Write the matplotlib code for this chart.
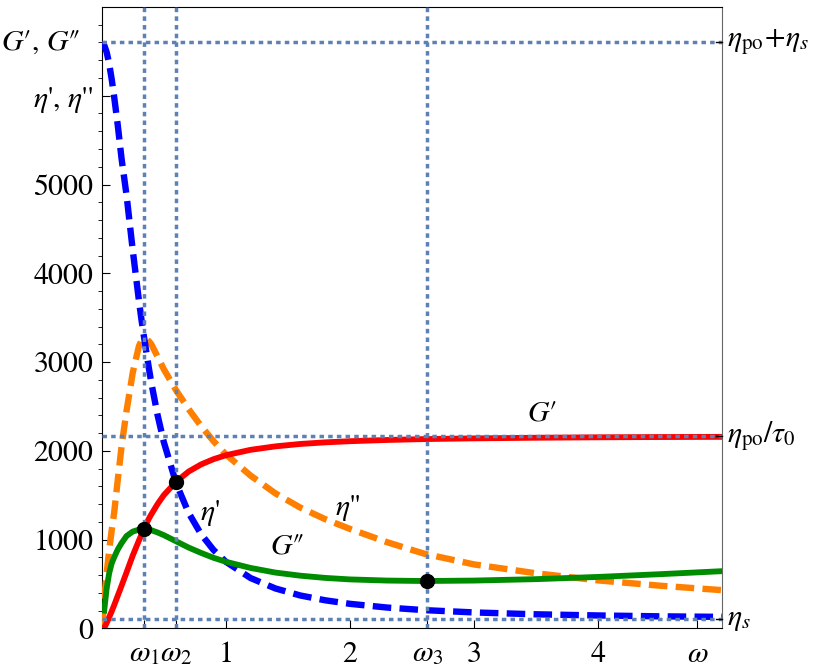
import numpy as np
import matplotlib as mpl
mpl.use('Agg')
import matplotlib.pyplot as plt

plt.rcParams['font.family'] = ['STIXGeneral', 'DejaVu Serif']
plt.rcParams['mathtext.fontset'] = 'stix'

# values
omega = [0.005, 0.02, 0.04, 0.06, 0.08, 0.1, 0.13, 0.16, 0.2, 0.25, 0.3, 0.32, 0.34,
         0.36, 0.38, 0.4, 0.45, 0.5, 0.6, 0.7, 0.8, 0.9, 1.0, 1.2, 1.4, 1.6, 1.8, 2.0,
         2.3, 2.6, 3.0, 3.5, 4.0, 4.5, 5.0]
G1 = [np.nan, 5, 60, 125, 190, 260, 370, 480, 630, 820, 990, 1055, 1118,
      1180, 1235, 1285, 1400, 1500, 1652, 1766, 1846, 1905, 1950, 2011, 2050, 2077, 2095, 2108,
      2122, 2132, 2140, 2147, 2152, 2155, 2157]
G2 = [np.nan, 200, 450, 620, 730, 800, 890, 960, 1040, 1090, 1112, 1117, 1118,
      1116, 1112, 1105, 1080, 1050, 980, 910, 850, 795, 750, 680, 628, 593, 568, 551,
      538, 533, 538, 554, 579, 610, 644]
eta1 = [6600, 6570, 6490, 6360, 6190, 5990, 5660, 5290, 4880, 4260, 3690, 3480, 3290,
        3110, 2930, 2764, 2403, 2100, 1633, 1301, 1062, 884, 750, 566, 449, 370, 316, 276,
        234, 205, 179, 158, 145, 135, 129]
eta2 = [30, 330, 620, 880, 1100, 1300, 1680, 2050, 2450, 2880, 3180, 3240, 3260,
        3255, 3235, 3200, 3060, 2920, 2680, 2470, 2280, 2110, 1960, 1720, 1520, 1360, 1230, 1120,
        970, 840, 720, 620, 540, 480, 430]

omega_marks = [0.344, 0.596, 2.625]
mark_values = [1118, 1650, 533]
levels = [6600, 2165, 100]
level_labels = [r'$\eta_{\rm po}\!+\!\eta_s$', r'$\eta_{\rm po}/\tau_0$', r'$\eta_s$']

xticks = [0.344, 0.596, 1, 2, 2.625, 3, 4, 4.8]
xticklabels = [r'$\omega_1$', r'$\omega_2$', '1', '2', r'$\omega_3$', '3', '4', r'$\omega$']

fs = 21.5
fig = plt.figure(figsize=(8.17, 6.71), dpi=100)
ax = fig.add_axes([0.1245, 0.0636, 0.7595, 0.926])

ax.plot(omega, eta2, color='#ff8000', lw=4.6, dashes=(2.9, 1.3), zorder=3)
ax.plot(omega, eta1, color='#0000ff', lw=4.6, dashes=(2.9, 1.3), zorder=3)
ax.plot(omega, G2, color='#008c00', lw=4.2, zorder=4)
ax.plot(omega, G1, color='#ff0000', lw=4.2, zorder=4)

ref = '#5e81b5'
for w in omega_marks:
    ax.axvline(w, color=ref, lw=2.5, dashes=(1.3, 1.2), zorder=5)
for lv in levels:
    ax.axhline(lv, color=ref, lw=2.5, dashes=(1.3, 1.2), zorder=5)

ax.plot(omega_marks, mark_values, 'o', color='black', ms=10, zorder=6)

ax.set_xlim(0, 5.0)
ax.set_ylim(0, 7000)

ax.set_xticks(xticks)
ax.set_xticklabels(xticklabels)
ax.set_yticks([0, 1000, 2000, 3000, 4000, 5000, 6000])
ax.set_yticklabels(['0', '1000', '2000', '3000', '4000', '5000', "$\\eta$', $\\eta$''"])
ax.set_yticks(np.arange(0, 7000, 200), minor=True)
ax.tick_params(axis='both', direction='in', labelsize=fs)
ax.tick_params(axis='y', which='major', length=6, pad=6)
ax.tick_params(axis='y', which='minor', length=3)
ax.tick_params(axis='x', which='major', length=6, pad=9)
ax.spines['right'].set_color('#666666')

ax.text(-0.035, 6600, "$G$\u2032, $G$\u2033", transform=ax.get_yaxis_transform(),
        ha='right', va='center', fontsize=fs)

trans = ax.get_yaxis_transform()
for lv, lab in zip(levels, level_labels):
    ax.plot([0.99, 1.0], [lv, lv], color='black', lw=1, transform=trans, clip_on=False, zorder=7)
    ax.text(1.008, lv, lab, transform=trans, ha='left', va='center', fontsize=fs)

ax.text(3.55, 2420, "$G$\u2032", fontsize=fs, ha='center', va='center')
ax.text(1.98, 1354, "$\\eta$''", fontsize=fs, ha='center', va='center')
ax.text(0.873, 1300, "$\\eta$'", fontsize=fs, ha='center', va='center')
ax.text(1.493, 920, "$G$\u2033", fontsize=fs, ha='center', va='center')

fig.savefig('out.png', dpi=100)
